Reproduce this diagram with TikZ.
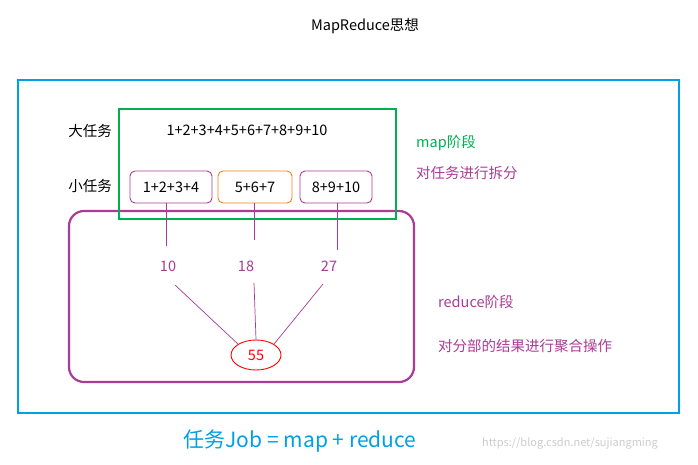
\documentclass[tikz,border=0pt]{standalone}
\usepackage{fontspec}
\usetikzlibrary{shapes.geometric}
\setmainfont{Noto Sans CJK SC}
\definecolor{cblue}{RGB}{0,160,230}
\definecolor{cgreen}{RGB}{0,176,80}
\definecolor{cpurple}{RGB}{170,60,150}
\definecolor{corange}{RGB}{240,130,30}
\begin{document}
\begin{tikzpicture}[x=1pt,y=-1pt,
  txt/.style={inner sep=0pt,font=\fontsize{14.5}{16}\selectfont},
  small/.style={draw,line width=0.9pt,rounded corners=5pt,minimum width=#1,minimum height=32,inner sep=0pt,font=\fontsize{14.5}{16}\selectfont},
  conn/.style={cpurple,line width=0.7pt}]
\useasboundingbox (0,0) rectangle (698,464);
\fill[white] (0,0) rectangle (698,464);
\node[txt] (title) at (365,26) {MapReduce思想};
\draw[cblue,line width=2.5pt] (18,80) rectangle (679,413);
\draw[cpurple,line width=2.2pt,rounded corners=15pt] (69,211) rectangle (414,382);
\draw[cgreen,line width=2.5pt] (119,109) rectangle (396,219);
\node[txt] (big) at (90,131) {大任务};
\node[txt] (bigsum) at (247,130) {1+2+3+4+5+6+7+8+9+10};
\node[txt] (smalll) at (90,186) {小任务};
\node[small=82,draw=cpurple] (b1) at (171,187) {1+2+3+4};
\node[small=74,draw=corange] (b2) at (255,187) {5+6+7};
\node[small=72,draw=cpurple] (b3) at (336,187) {8+9+10};
\node[txt,cpurple] (r1) at (168,266) {10};
\node[txt,cpurple] (r2) at (246,266) {18};
\node[txt,cpurple] (r3) at (329,266) {27};
\draw[conn] (b1.south -| 166,0) -- (166,246);
\draw[conn] (b2.south -| 254,0) -- (254,240);
\draw[conn] (b3.south -| 337,0) -- (337,250);
\node[draw=red,line width=0.9pt,ellipse,minimum width=50,minimum height=30,inner sep=0pt,red,font=\fontsize{14.5}{16}\selectfont] (sum) at (256,355) {55};
\draw[conn] (175,285) -- (sum.north west);
\draw[conn] (254,283) -- (sum.north);
\draw[conn] (323,284) -- (sum.north east);
\node[txt,cgreen,anchor=west] (map) at (416,143) {map阶段};
\node[txt,cpurple,anchor=west] (mapd) at (416,173) {对任务进行拆分};
\node[txt,cpurple,anchor=west] (red) at (438,302) {reduce阶段};
\node[txt,cpurple,anchor=west] (redd) at (438,346) {对分部的结果进行聚合操作};
\node[inner sep=0pt,cblue,font=\fontsize{21}{24}\selectfont] (job) at (300,441) {任务Job = map + reduce};
\node[inner sep=0pt,gray!40,font=\fontsize{11}{13}\selectfont] (wm) at (570,443) {https://blog.csdn.net/sujiangming};
\end{tikzpicture}
\end{document}
